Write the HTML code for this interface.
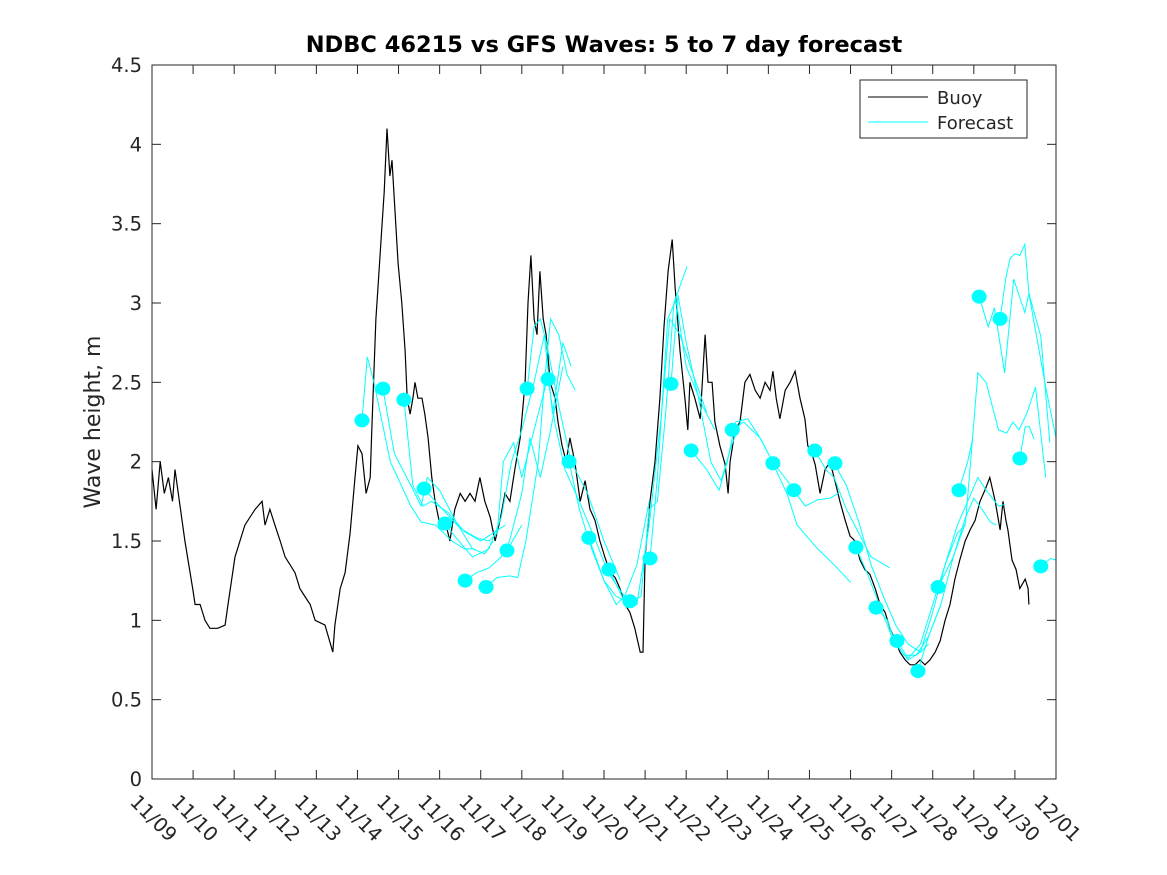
<!DOCTYPE html>
<html><head><meta charset="utf-8"><style>
html,body{margin:0;padding:0;background:#fff;}
svg{display:block;font-family:"DejaVu Sans","Liberation Sans",sans-serif;}
</style></head><body>
<svg id="chart" width="1167" height="875" viewBox="0 0 1167 875">
<rect x="0" y="0" width="1167" height="875" fill="#fff"/>
<text x="604" y="52" text-anchor="middle" font-size="22.5" font-weight="bold">NDBC 46215 vs GFS Waves: 5 to 7 day forecast</text>
<text transform="translate(100,422) rotate(-90)" text-anchor="middle" font-size="22" fill="#262626">Wave height, m</text>
<g id="grid"></g>
<g id="series"></g>
<rect x="152" y="65" width="904" height="714" fill="none" stroke="#262626" stroke-width="1"/>
<g>
<rect x="860" y="80" width="167" height="58" fill="#fff" stroke="#262626" stroke-width="1"/>
<line x1="868" y1="97" x2="928" y2="97" stroke="#000" stroke-width="1"/>
<text x="937" y="104" font-size="18" fill="#262626">Buoy</text>
<line x1="868" y1="122" x2="928" y2="122" stroke="#00ffff" stroke-width="1"/>
<text x="937" y="129" font-size="18" fill="#262626">Forecast</text>
</g>
</svg>
<script>
const xTickLabels = ["11/09","11/10","11/11","11/12","11/13","11/14","11/15","11/16","11/17","11/18","11/19","11/20","11/21","11/22","11/23","11/24","11/25","11/26","11/27","11/28","11/29","11/30","12/01"];
const yTicks = [0,0.5,1,1.5,2,2.5,3,3.5,4,4.5];
const yTickLabels = ["0","0.5","1","1.5","2","2.5","3","3.5","4","4.5"];
const buoyDays = [0,0.1,0.2,0.3,0.4,0.5,0.56,0.8,0.99,1.05,1.17,1.29,1.41,1.6,1.78,1.85,2.02,2.26,2.51,2.68,2.75,2.87,2.99,3.12,3.24,3.36,3.48,3.6,3.72,3.85,3.97,4.21,4.4,4.45,4.58,4.7,4.82,4.94,5.01,5.11,5.21,5.31,5.35,5.45,5.5,5.6,5.65,5.72,5.79,5.84,5.91,5.99,6.08,6.16,6.21,6.28,6.35,6.4,6.47,6.57,6.64,6.72,6.81,6.89,7.01,7.13,7.25,7.37,7.5,7.62,7.74,7.86,7.98,8.1,8.23,8.35,8.47,8.59,8.71,8.83,8.96,9.08,9.15,9.22,9.3,9.37,9.44,9.52,9.59,9.69,9.81,9.88,9.98,10.08,10.17,10.29,10.42,10.54,10.66,10.78,10.9,11.02,11.15,11.27,11.39,11.51,11.63,11.75,11.88,11.95,12.0,12.12,12.24,12.36,12.46,12.56,12.66,12.73,12.85,12.97,13.04,13.09,13.21,13.34,13.46,13.53,13.63,13.7,13.82,13.95,14.02,14.07,14.19,14.31,14.43,14.55,14.68,14.8,14.92,15.04,15.11,15.19,15.28,15.41,15.53,15.65,15.77,15.89,15.96,16.06,16.14,16.26,16.38,16.5,16.62,16.74,16.87,16.99,17.11,17.23,17.35,17.47,17.6,17.72,17.84,17.96,18.08,18.2,18.33,18.45,18.57,18.69,18.81,18.93,19.06,19.18,19.3,19.42,19.54,19.66,19.79,19.91,20.03,20.15,20.27,20.39,20.52,20.64,20.71,20.78,20.83,20.93,21.03,21.12,21.25,21.32,21.34];
const buoyValues = [1.95,1.7,2.0,1.8,1.9,1.75,1.95,1.5,1.2,1.1,1.1,1.0,0.95,0.95,0.97,1.1,1.4,1.6,1.7,1.75,1.6,1.7,1.6,1.5,1.4,1.35,1.3,1.2,1.15,1.1,1.0,0.97,0.8,0.97,1.2,1.3,1.55,1.9,2.1,2.05,1.8,1.9,2.2,2.9,3.1,3.5,3.7,4.1,3.8,3.9,3.6,3.25,3.0,2.7,2.4,2.3,2.4,2.5,2.4,2.4,2.3,2.15,1.9,1.75,1.6,1.63,1.5,1.7,1.8,1.75,1.8,1.75,1.9,1.75,1.65,1.5,1.63,1.8,1.75,1.95,2.15,2.5,3.0,3.3,2.9,2.8,3.2,2.9,2.8,2.5,2.4,2.25,2.1,2.0,2.15,2.0,1.75,1.88,1.7,1.63,1.5,1.4,1.3,1.27,1.2,1.1,1.05,0.95,0.8,0.8,1.4,1.75,2.0,2.4,2.85,3.2,3.4,3.1,2.7,2.4,2.2,2.5,2.4,2.27,2.8,2.5,2.5,2.25,2.1,1.98,1.8,2.0,2.2,2.25,2.5,2.55,2.45,2.4,2.5,2.45,2.57,2.4,2.27,2.45,2.5,2.57,2.4,2.27,2.1,2.05,1.98,1.8,1.95,2.0,1.88,1.75,1.63,1.53,1.5,1.38,1.32,1.29,1.2,1.1,1.05,0.95,0.88,0.8,0.75,0.72,0.72,0.75,0.72,0.75,0.8,0.87,1.0,1.1,1.26,1.38,1.5,1.57,1.63,1.75,1.82,1.9,1.75,1.57,1.75,1.63,1.57,1.38,1.32,1.2,1.26,1.2,1.1];
const dotDays = [5.11,5.62,6.13,6.62,7.13,7.62,8.13,8.64,9.13,9.64,10.15,10.63,11.12,11.63,12.12,12.63,13.12,14.12,15.11,15.62,16.13,16.62,17.13,17.62,18.13,18.64,19.13,19.64,20.13,20.64,21.12,21.63];
const dotValues = [2.26,2.46,2.39,1.83,1.61,1.25,1.21,1.44,2.46,2.52,2.0,1.52,1.32,1.12,1.39,2.49,2.07,2.2,1.99,1.82,2.07,1.99,1.46,1.08,0.87,0.68,1.21,1.82,3.04,2.9,2.02,1.34];
const fc01 = [[5.11,2.26],[5.24,2.66],[5.4,2.5],[5.8,2.0],[6.3,1.72],[6.55,1.62],[6.9,1.6],[7.3,1.5],[7.6,1.45],[7.85,1.45]];
const fc02 = [[5.62,2.46],[5.9,2.05],[6.3,1.85],[6.55,1.72],[6.7,1.9],[7.0,1.82],[7.4,1.62],[7.8,1.45],[8.1,1.42],[8.3,1.5]];
const fc03 = [[6.13,2.39],[6.35,1.85],[6.6,1.72],[6.8,1.75],[7.2,1.68],[7.6,1.56],[8.0,1.5],[8.3,1.55],[8.6,1.6]];
const fc04 = [[6.62,1.83],[7.0,1.72],[7.5,1.58],[7.9,1.52],[8.2,1.5],[8.4,1.55],[8.55,2.0],[8.8,2.12],[9.0,1.9],[9.3,2.2],[9.6,2.5]];
const fc05 = [[7.13,1.61],[7.4,1.52],[7.8,1.4],[8.2,1.45],[8.5,1.65],[8.75,2.0],[9.0,2.2],[9.3,2.5],[9.55,2.8],[9.75,2.3],[10.0,2.75],[10.2,2.6]];
const fc06 = [[7.62,1.25],[7.9,1.3],[8.2,1.33],[8.5,1.4],[8.7,1.5],[9.0,1.8],[9.2,2.15],[9.45,1.9],[9.7,2.2],[10.0,2.6]];
const fc07 = [[8.13,1.21],[8.4,1.27],[8.7,1.28],[8.9,1.27],[9.1,1.5],[9.4,2.0],[9.55,2.5],[9.7,2.9],[9.9,2.8],[10.1,2.55],[10.3,2.45]];
const fc08 = [[8.64,1.44],[9.0,1.6]];
const fc09 = [[9.13,2.46],[9.3,2.85],[9.45,2.9],[9.6,2.75],[9.9,2.35],[10.2,2.0],[10.6,1.8],[11.0,1.5],[11.4,1.25]];
const fc10 = [[9.64,2.52],[9.8,2.25],[10.05,1.95],[10.4,1.75],[10.8,1.5],[11.1,1.3],[11.5,1.15]];
const fc11 = [[10.15,2.0],[10.4,1.7],[10.7,1.45],[11.0,1.25],[11.3,1.15],[11.55,1.12]];
const fc12 = [[10.63,1.52],[11.0,1.25],[11.3,1.1],[11.5,1.15],[11.8,1.35],[12.1,1.75]];
const fc13 = [[11.12,1.32],[11.5,1.12],[11.8,1.1],[12.1,1.6],[12.4,2.3],[12.6,2.9],[12.85,2.8],[13.1,2.6],[13.5,2.31]];
const fc14 = [[11.63,1.12],[11.9,1.15],[12.1,1.7],[12.3,1.75],[12.5,2.3],[12.7,3.0],[13.02,3.23]];
const fc15 = [[12.12,1.39],[12.3,1.9],[12.55,2.9],[12.75,3.02],[13.0,2.6],[13.4,2.35],[13.7,2.2]];
const fc16 = [[12.63,2.49],[12.8,3.05],[13.0,2.75],[13.3,2.4],[13.6,2.0],[13.85,1.88],[14.1,2.1],[14.35,2.27]];
const fc17 = [[13.12,2.07],[13.5,1.95],[13.8,1.82],[14.0,2.0],[14.2,2.25],[14.5,2.27],[14.8,2.15],[15.0,2.05]];
const fc18 = [[14.12,2.2],[14.4,2.25],[14.8,2.15],[15.1,2.0],[15.4,1.9],[15.6,1.83]];
const fc19 = [[15.11,1.99],[15.45,1.8],[15.7,1.6],[16.2,1.45],[16.6,1.35],[17.0,1.24]];
const fc20 = [[15.62,1.82],[15.9,1.72],[16.2,1.76],[16.5,1.77],[16.7,1.8]];
const fc21 = [[16.13,2.07],[16.4,1.95],[16.6,1.9],[16.9,1.7],[17.2,1.55],[17.5,1.4],[17.96,1.33]];
const fc22 = [[16.62,1.98],[16.9,1.85],[17.2,1.62],[17.5,1.35],[17.8,1.15],[18.1,0.97],[18.4,0.85],[18.7,0.8],[18.9,0.85]];
const fc23 = [[17.13,1.46],[17.4,1.3],[17.7,1.1],[18.0,0.9],[18.3,0.78],[18.6,0.78],[18.9,0.9],[19.2,1.1]];
const fc24 = [[17.62,1.08],[17.9,1.0],[18.1,0.85],[18.4,0.75],[18.7,0.8],[19.0,1.05],[19.3,1.35],[19.6,1.55],[19.8,1.6]];
const fc25 = [[18.13,0.87],[18.4,0.76],[18.7,0.85],[19.0,1.1],[19.3,1.35],[19.6,1.6],[19.9,1.78],[20.1,1.9],[20.3,1.82],[20.6,1.72],[20.75,1.73]];
const fc26 = [[18.64,0.68],[18.9,0.9],[19.2,1.1],[19.5,1.4],[19.8,1.65],[20.0,1.77],[20.2,1.7],[20.4,1.62],[20.55,1.6]];
const fc27 = [[19.13,1.21],[19.5,1.4],[19.8,1.62],[20.1,2.56],[20.3,2.5],[20.6,2.2],[20.8,2.18],[20.95,2.25],[21.1,2.2],[21.3,2.31],[21.5,2.47],[21.75,1.9]];
const fc28 = [[19.64,1.82],[19.85,2.0],[19.97,2.14]];
const fc29 = [[20.13,3.04],[20.35,2.85],[20.5,2.97],[20.75,2.56],[20.97,3.15],[21.24,2.94],[21.34,3.06],[21.63,2.79],[21.85,2.12]];
const fc30 = [[20.64,2.9],[20.78,3.16],[20.88,3.28],[21.0,3.31],[21.12,3.3],[21.24,3.37],[21.34,3.06],[21.75,2.47],[22.0,2.15]];
const fc31 = [[21.12,2.02],[21.25,2.22],[21.35,2.22],[21.47,2.14]];
const fc32 = [[21.63,1.34],[21.87,1.39],[22.0,1.38]];
const forecasts = [fc01,fc02,fc03,fc04,fc05,fc06,fc07,fc08,fc09,fc10,fc11,fc12,fc13,fc14,fc15,fc16,fc17,fc18,fc19,fc20,fc21,fc22,fc23,fc24,fc25,fc26,fc27,fc28,fc29,fc30,fc31,fc32];

const NS = "http://www.w3.org/2000/svg";
const X0 = 152, X1 = 1056, Y0 = 779, Y1 = 65, DMAX = 22, VMAX = 4.5;
function xs(d){ return X0 + (X1 - X0) * d / DMAX; }
function ys(v){ return Y0 - (Y0 - Y1) * v / VMAX; }
function mk(tag, attrs, parent){ const e = document.createElementNS(NS, tag); for (const k in attrs) e.setAttribute(k, attrs[k]); parent.appendChild(e); return e; }
const grid = document.getElementById('grid');
const series = document.getElementById('series');

xTickLabels.forEach((lab, i) => {
  const x = xs(i);
  const t1 = mk('line', {x1:x, y1:Y0, x2:x, y2:Y0-9, stroke:'#262626'}, grid);
  
  
  const t2 = mk('line', {x1:x, y1:Y1, x2:x, y2:Y1+9, stroke:'#262626'}, grid);
  
  
  const tx = mk('text', {x:x-23, y:803, 'font-size':19.5, fill:'#262626', transform:'rotate(45 '+(x-23)+' 803)'}, grid);
  tx.textContent = lab;
  
  
});
yTicks.forEach((v, i) => {
  const y = ys(v);
  const t1 = mk('line', {x1:X0, y1:y, x2:X0+9, y2:y, stroke:'#262626'}, grid);
  
  
  const t2 = mk('line', {x1:X1, y1:y, x2:X1-9, y2:y, stroke:'#262626'}, grid);
  
  
  const tx = mk('text', {x:142, y:y+7, 'font-size':19.5, fill:'#262626', 'text-anchor':'end'}, grid);
  tx.textContent = yTickLabels[i];
  
  
});

const bp = buoyDays.map((d, i) => xs(d).toFixed(1) + ',' + ys(buoyValues[i]).toFixed(1)).join(' ');
const buoy = mk('polyline', {points:bp, fill:'none', stroke:'#000', 'stroke-width':1.2}, series);



forecasts.forEach(seg => {
  const pts = seg.map(p => xs(p[0]).toFixed(1) + ',' + ys(p[1]).toFixed(1)).join(' ');
  const pl = mk('polyline', {points:pts, fill:'none', stroke:'#00ffff', 'stroke-width':1}, series);
  
  
});
dotDays.forEach((d, i) => {
  const c = mk('ellipse', {cx:xs(d), cy:ys(dotValues[i]), rx:7.5, ry:7, fill:'#00ffff'}, series);
  
  
});
</script>
</body></html>
